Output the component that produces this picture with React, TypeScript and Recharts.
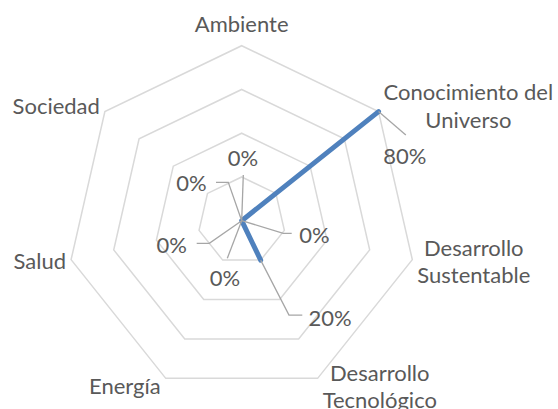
import React from 'react';
import { RadarChart, Radar, PolarGrid, PolarAngleAxis, PolarRadiusAxis } from 'recharts';

// ---- data ----
const categories = [
  'Ambiente',
  'Conocimiento del\nUniverso',
  'Desarrollo\nSustentable',
  'Desarrollo\nTecnológico',
  'Energía',
  'Salud',
  'Sociedad',
];
const values = [0, 0.8, 0, 0.2, 0, 0, 0];
const radiusTicks = [0, 0.2, 0.4, 0.6, 0.8];

const data = categories.map((name, i) => ({ name, value: values[i] }));

// ---- layout / style ----
const W = 558;
const H = 409;
const CX = 241.7;
const CY = 220.7;
const R = 175; // radius of outer grid ring (80%)
const FONT = 'Lato, "Open Sans", sans-serif';
const FS = 22;
const LH = 27.5;
const TEXT = '#595959';
const GRID = '#d9d9d9';
const LEADER = '#a6a6a6';
const SERIES = '#4f81bd';

// data-label placement (offset of text centre from point, leader end relative to text centre, horizontal tail)
const labelLayout = [
  { dx: 1.3, dy: -62.7, lx: 0.3, ly: 17, tail: 0 },
  { dx: 26.3, dy: 44.3, lx: 1, ly: -21, tail: 0 },
  { dx: 72.8, dy: 14.3, lx: -22.8, ly: -1.7, tail: -8.4 },
  { dx: 69.3, dy: 58.3, lx: -27.7, ly: -3.3, tail: -13.3 },
  { dx: -16.7, dy: 57.3, lx: 2.3, ly: -19.7, tail: 0 },
  { dx: -70, dy: 24.3, lx: 25, ly: -1.7, tail: 12.6 },
  { dx: -50.2, dy: -37.2, lx: 24.5, ly: -1.2, tail: 12.3 },
];

let ctx: CanvasRenderingContext2D | null = null;
const measure = (s: string) => {
  if (!ctx) ctx = document.createElement('canvas').getContext('2d');
  if (!ctx) return s.length * FS * 0.5;
  ctx.font = `${FS}px Lato`;
  return ctx.measureText(s).width;
};

const pct = (v: number) => `${Math.round(v * 100)}%`;

function AngleTick(props: any) {
  const { x, y, payload } = props;
  const lines = String(payload.value).split('\n');
  const dxv = x - CX;
  const dyv = y - CY;
  const len = Math.hypot(dxv, dyv) || 1;
  const ux = dxv / len;
  const uy = dyv / len;
  const vx = CX + ux * R;
  const vy = CY + uy * R;
  const w = Math.max(...lines.map(measure));
  let xc: number;
  let yc: number;
  if (Math.abs(ux) < 0.1) {
    xc = vx;
    yc = uy < 0 ? vy - 21.5 - ((lines.length - 1) * LH) / 2 : vy + 21.5 + ((lines.length - 1) * LH) / 2;
  } else {
    xc = ux > 0 ? vx + 5 + w / 2 : vx - 5 - w / 2;
    yc = vy + uy * 9;
  }
  return (
    <text textAnchor="middle" fontFamily={FONT} fontSize={FS} fill={TEXT}>
      {lines.map((l, i) => (
        <tspan key={i} x={xc} y={yc + (i - (lines.length - 1) / 2) * LH + 7.8}>
          {l}
        </tspan>
      ))}
    </text>
  );
}

function DataLabel(props: any) {
  const { cx, cy, index, payload } = props;
  const lay = labelLayout[index];
  if (!lay || cx == null || cy == null) return <g />;
  const v = payload && payload.value != null ? payload.value : values[index];
  const tx = cx + lay.dx;
  const ty = cy + lay.dy;
  const ex = tx + lay.lx;
  const ey = ty + lay.ly;
  const elx = ex + lay.tail;
  const d = lay.tail !== 0 ? `M${cx},${cy}L${elx},${ey}L${ex},${ey}` : `M${cx},${cy}L${ex},${ey}`;
  return (
    <g key={`lbl-${index}`}>
      <path d={d} stroke={LEADER} strokeWidth={1.3} fill="none" />
      <text x={tx} y={ty + 7.8} textAnchor="middle" fontFamily={FONT} fontSize={FS} fill={TEXT}>
        {pct(v)}
      </text>
    </g>
  );
}

export default function App() {
  return (
    <div style={{ position: 'fixed', left: 0, top: 0, width: W, height: H, background: '#fff' }}>
      <RadarChart
        width={W}
        height={H}
        data={data}
        cx={CX}
        cy={CY}
        outerRadius={R / 0.8}
        startAngle={90}
        endAngle={-270}
        margin={{ top: 0, right: 0, bottom: 0, left: 0 }}
      >
        <PolarGrid gridType="polygon" radialLines={false} stroke={GRID} strokeWidth={1.5} />
        <PolarAngleAxis dataKey="name" tick={AngleTick} tickLine={false} axisLine={false} />
        <PolarRadiusAxis
          type="number"
          domain={[0, 0.8]}
          allowDataOverflow
          ticks={radiusTicks as any}
          tickCount={5}
          tick={false}
          axisLine={false}
          angle={90}
        />
        <Radar
          dataKey="value"
          stroke={SERIES}
          strokeWidth={5}
          strokeLinejoin="round"
          strokeLinecap="round"
          fill="none"
          fillOpacity={0}
          dot={DataLabel}
          isAnimationActive={false}
        />
      </RadarChart>
    </div>
  );
}
